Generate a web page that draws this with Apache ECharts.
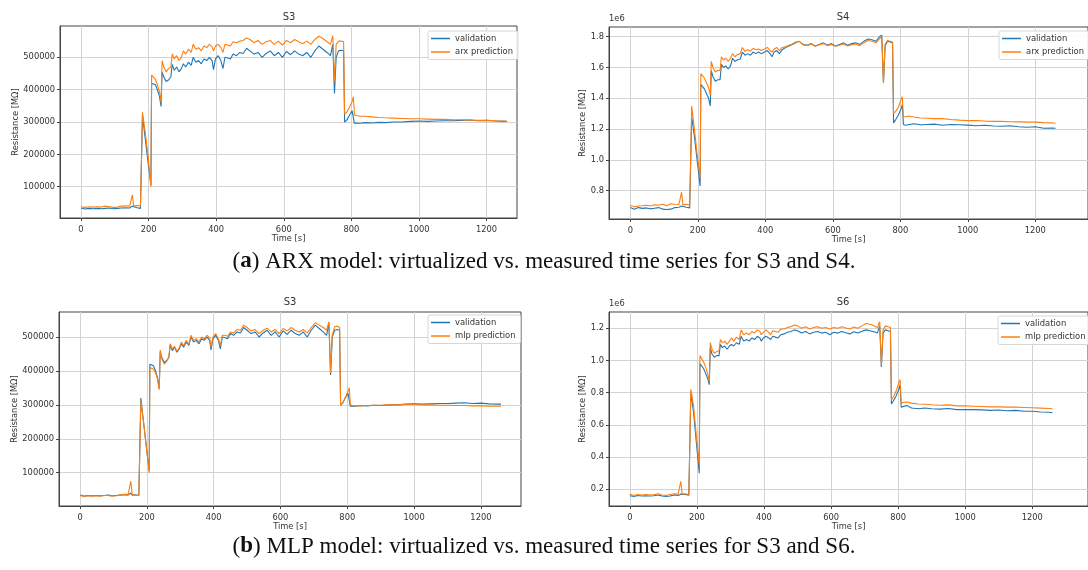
<!DOCTYPE html>
<html>
<head>
<meta charset="utf-8">
<script src="https://cdn.jsdelivr.net/npm/echarts@6/dist/echarts.min.js"></script>
<style>
  html, body { margin: 0; padding: 0; background: #fff; }
  #main { width: 1088px; height: 570px; }
</style>
</head>
<body>
<div id="main"></div>
<script>
// time axis shared by every panel [s]
var time = [
  0, 12, 24, 36, 48, 60, 72, 84, 96, 108,
  120, 132, 144, 149, 152, 156, 166, 176, 179, 182,
  190, 198, 207, 209, 214, 220, 226, 232, 237, 240,
  245, 252, 259, 266, 270, 276, 283, 290, 297, 303,
  310, 318, 326, 332, 340, 348, 356, 364, 372, 380,
  388, 392, 398, 406, 414, 420, 426, 434, 442, 450,
  460, 470, 480, 490, 500, 512, 524, 536, 548, 560,
  572, 584, 596, 608, 620, 632, 644, 656, 668, 680,
  692, 704, 716, 728, 738, 745, 750, 755, 762, 770,
  777, 780, 786, 794, 802, 806, 809, 816, 826, 840,
  860, 880, 900, 925, 950, 975, 1000, 1025, 1050, 1075,
  1100, 1125, 1150, 1175, 1200, 1225, 1250, 1260
];

// S3 measured (validation)
var s3Validation = [
  34000, 31000, 33000, 32000, 33000, 32000, 33000, 34000, 32000, 33000,
  34000, 35000, 34000, 36000, 40000, 34000, 35000, 33000, 34000, 320000,
  250000, 180000, 105000, 420000, 425000, 415000, 400000, 380000, 348000, 455000,
  440000, 425000, 430000, 440000, 478000, 460000, 470000, 455000, 465000, 480000,
  470000, 485000, 475000, 500000, 485000, 490000, 480000, 495000, 490000, 500000,
  490000, 462000, 495000, 505000, 490000, 465000, 500000, 498000, 495000, 510000,
  505000, 515000, 512000, 528000, 520000, 510000, 515000, 500000, 512000, 520000,
  505000, 515000, 500000, 518000, 508000, 520000, 510000, 505000, 515000, 500000,
  520000, 535000, 525000, 515000, 505000, 540000, 388000, 500000, 520000, 522000,
  520000, 300000, 305000, 320000, 335000, 340000, 296000, 297000, 296000, 298000,
  297000, 299000, 298000, 300000, 300000, 302000, 303000, 302000, 303000, 304000,
  304000, 305000, 306000, 304000, 305000, 303000, 302000, 302000
];
// S3 ARX prediction
var s3Arx = [
  38000, 36000, 38000, 37000, 38000, 37000, 40000, 38000, 36000, 37000,
  40000, 41000, 40000, 42000, 75000, 40000, 42000, 41000, 42000, 330000,
  270000, 200000, 100000, 445000, 440000, 432000, 415000, 395000, 360000, 490000,
  470000, 455000, 465000, 470000, 510000, 495000, 505000, 490000, 500000, 520000,
  510000, 525000, 515000, 540000, 525000, 530000, 520000, 535000, 530000, 540000,
  532000, 520000, 535000, 540000, 530000, 515000, 540000, 538000, 535000, 548000,
  545000, 550000, 552000, 560000, 555000, 545000, 552000, 540000, 548000, 552000,
  540000, 550000, 538000, 552000, 545000, 555000, 548000, 542000, 550000, 540000,
  555000, 565000, 558000, 548000, 540000, 567000, 425000, 540000, 550000, 550000,
  548000, 325000, 330000, 345000, 362000, 378000, 322000, 320000, 318000, 318000,
  316000, 314000, 313000, 312000, 311000, 310000, 310000, 309000, 308000, 308000,
  307000, 307000, 306000, 305000, 305000, 304000, 303000, 302000
];
// S3 MLP prediction
var s3Mlp = [
  33000, 30000, 32000, 31000, 32000, 31000, 33000, 33000, 31000, 32000,
  34000, 36000, 36000, 38000, 75000, 35000, 34000, 33000, 33000, 310000,
  250000, 180000, 100000, 410000, 415000, 405000, 395000, 375000, 345000, 462000,
  435000, 420000, 428000, 442000, 480000, 465000, 472000, 458000, 468000, 485000,
  475000, 490000, 478000, 505000, 490000, 495000, 485000, 500000, 495000, 505000,
  498000, 470000, 500000, 510000, 495000, 475000, 505000, 505000, 502000, 515000,
  512000, 522000, 520000, 535000, 528000, 518000, 522000, 510000, 520000, 526000,
  515000, 522000, 510000, 525000, 518000, 528000, 520000, 515000, 522000, 512000,
  528000, 542000, 535000, 528000, 520000, 545000, 395000, 505000, 530000, 532000,
  528000, 298000, 305000, 322000, 340000, 350000, 300000, 298000, 297000, 297000,
  298000, 299000, 299000, 300000, 300000, 301000, 301000, 300000, 300000, 299000,
  299000, 298000, 298000, 297000, 297000, 296000, 296000, 296000
];
// S4 measured (validation)
var s4Validation = [
  690000, 680000, 690000, 685000, 688000, 682000, 686000, 690000, 680000, 678000,
  680000, 690000, 692000, 688000, 700000, 690000, 692000, 688000, 690000, 1280000,
  1150000, 1000000, 830000, 1490000, 1480000, 1460000, 1430000, 1400000, 1350000, 1580000,
  1540000, 1510000, 1520000, 1520000, 1620000, 1600000, 1610000, 1590000, 1610000, 1660000,
  1640000, 1650000, 1655000, 1700000, 1680000, 1690000, 1680000, 1700000, 1690000, 1700000,
  1690000, 1680000, 1700000, 1710000, 1690000, 1670000, 1700000, 1710000, 1690000, 1715000,
  1730000, 1740000, 1750000, 1760000, 1770000, 1750000, 1745000, 1755000, 1740000, 1750000,
  1760000, 1745000, 1755000, 1740000, 1750000, 1760000, 1745000, 1755000, 1760000, 1750000,
  1770000, 1785000, 1780000, 1770000, 1800000, 1810000, 1500000, 1740000, 1770000, 1765000,
  1760000, 1240000, 1260000, 1290000, 1330000, 1360000, 1230000, 1225000, 1230000, 1235000,
  1228000, 1230000, 1232000, 1225000, 1230000, 1228000, 1226000, 1222000, 1225000, 1220000,
  1218000, 1222000, 1215000, 1212000, 1215000, 1205000, 1207000, 1205000
];
// S4 ARX prediction
var s4Arx = [
  705000, 695000, 700000, 702000, 705000, 700000, 708000, 705000, 712000, 702000,
  715000, 712000, 710000, 720000, 790000, 708000, 712000, 706000, 708000, 1350000,
  1200000, 1040000, 880000, 1560000, 1550000, 1530000, 1500000, 1470000, 1420000, 1640000,
  1600000, 1570000, 1580000, 1580000, 1670000, 1650000, 1660000, 1640000, 1660000, 1690000,
  1670000, 1685000, 1690000, 1730000, 1705000, 1715000, 1705000, 1725000, 1715000, 1720000,
  1710000, 1705000, 1720000, 1730000, 1710000, 1700000, 1720000, 1730000, 1710000, 1730000,
  1735000, 1745000, 1752000, 1765000, 1770000, 1748000, 1742000, 1752000, 1738000, 1748000,
  1755000, 1742000, 1750000, 1738000, 1745000, 1752000, 1740000, 1748000, 1752000, 1742000,
  1760000, 1775000, 1770000, 1760000, 1785000, 1800000, 1500000, 1750000, 1775000, 1770000,
  1765000, 1300000, 1315000, 1340000, 1390000, 1410000, 1280000, 1280000, 1285000, 1278000,
  1272000, 1270000, 1268000, 1268000, 1262000, 1258000, 1255000, 1255000, 1252000, 1250000,
  1250000, 1248000, 1247000, 1245000, 1245000, 1242000, 1240000, 1238000
];
// S6 measured (validation)
var s6Validation = [
  160000, 155000, 162000, 158000, 160000, 158000, 160000, 165000, 158000, 155000,
  158000, 165000, 162000, 160000, 170000, 165000, 168000, 163000, 165000, 800000,
  680000, 500000, 300000, 980000, 970000, 950000, 920000, 890000, 850000, 1080000,
  1040000, 1020000, 1030000, 1030000, 1100000, 1080000, 1090000, 1070000, 1090000, 1100000,
  1090000, 1110000, 1100000, 1150000, 1120000, 1130000, 1120000, 1140000, 1130000, 1150000,
  1140000, 1120000, 1140000, 1150000, 1140000, 1130000, 1150000, 1145000, 1140000, 1160000,
  1165000, 1175000, 1180000, 1190000, 1185000, 1170000, 1180000, 1165000, 1175000, 1180000,
  1170000, 1175000, 1160000, 1175000, 1170000, 1180000, 1172000, 1165000, 1178000, 1170000,
  1182000, 1190000, 1185000, 1178000, 1170000, 1215000, 960000, 1170000, 1190000, 1185000,
  1180000, 730000, 750000, 780000, 820000, 850000, 710000, 715000, 720000, 705000,
  700000, 705000, 700000, 698000, 702000, 695000, 695000, 695000, 693000, 690000,
  692000, 688000, 690000, 685000, 685000, 680000, 678000, 675000
];
// S6 MLP prediction
var s6Mlp = [
  170000, 162000, 168000, 165000, 168000, 165000, 168000, 172000, 165000, 162000,
  168000, 172000, 170000, 168000, 250000, 170000, 172000, 168000, 170000, 820000,
  720000, 540000, 350000, 1030000, 1020000, 990000, 960000, 920000, 870000, 1110000,
  1070000, 1045000, 1055000, 1060000, 1130000, 1110000, 1120000, 1100000, 1120000, 1140000,
  1120000, 1145000, 1130000, 1190000, 1160000, 1170000, 1160000, 1180000, 1170000, 1190000,
  1180000, 1160000, 1175000, 1190000, 1175000, 1160000, 1185000, 1180000, 1175000, 1195000,
  1195000, 1205000, 1210000, 1220000, 1215000, 1200000, 1210000, 1195000, 1205000, 1210000,
  1200000, 1205000, 1195000, 1205000, 1200000, 1210000, 1202000, 1195000, 1208000, 1200000,
  1215000, 1230000, 1225000, 1215000, 1205000, 1240000, 970000, 1190000, 1215000, 1210000,
  1205000, 755000, 775000, 810000, 860000, 880000, 735000, 740000, 742000, 735000,
  730000, 728000, 725000, 722000, 724000, 718000, 718000, 716000, 714000, 712000,
  712000, 710000, 710000, 708000, 706000, 704000, 702000, 700000
];

var xTicks = [0, 200, 400, 600, 800, 1000, 1200];
var yTicksS3 = [100000, 200000, 300000, 400000, 500000];
var yTicksS4 = [800000, 1000000, 1200000, 1400000, 1600000, 1800000];
var yTicksS6 = [200000, 400000, 600000, 800000, 1000000, 1200000];

[s3Validation, s3Arx, s3Mlp, s4Validation, s4Arx, s6Validation, s6Mlp].forEach(function (a) {
  if (a.length !== time.length) throw new Error('length mismatch ' + a.length + ' vs ' + time.length);
});

function pairs(vals) {
  return time.map(function (t, i) { return [t, vals[i]]; });
}

var BLUE = '#1f77b4', ORANGE = '#ff7f0e';
var TXT = '#333';
var FONT = 'DejaVu Sans';

var chart = echarts.init(document.getElementById('main'), null, { renderer: 'canvas' });

var grids = [
  { left: 60, top: 26, width: 457, height: 192 },
  { left: 609, top: 27, width: 483, height: 192 },
  { left: 59, top: 312, width: 462, height: 194 },
  { left: 609, top: 312, width: 483, height: 194 }
];
var xRanges = [[-62, 1290], [-63, 1356], [-63, 1320], [-62, 1366]];
var yRanges = [[3250, 596800], [616000, 1863000], [1840, 573700], [96300, 1301000]];
var yTicks = [yTicksS3, yTicksS4, yTicksS3, yTicksS6];
var yNameGap = [40, 22, 40, 22];

function xAxis(i) {
  return {
    type: 'value', gridIndex: i, min: xRanges[i][0], max: xRanges[i][1],
    name: 'Time [s]', nameLocation: 'middle', nameGap: 17,
    nameTextStyle: { fontFamily: FONT, fontSize: 8.3, color: TXT },
    axisLine: { show: true, onZero: false, lineStyle: { color: '#444', width: 1 } },
    axisTick: { show: true, length: 3, customValues: xTicks, lineStyle: { color: '#444' } },
    axisLabel: { customValues: xTicks, margin: 8, fontFamily: FONT, fontSize: 8.3, color: TXT,
      formatter: function (v) { return String(v); } },
    splitLine: { show: true, lineStyle: { color: '#d3d3d3', width: 1 } }
  };
}
function yAxis(i) {
  var mega = (i === 1 || i === 3);
  return {
    type: 'value', gridIndex: i, min: yRanges[i][0], max: yRanges[i][1],
    name: 'Resistance [M\u03a9]', nameLocation: 'middle', nameGap: yNameGap[i],
    nameTextStyle: { fontFamily: FONT, fontSize: 8.3, color: TXT },
    axisLine: { show: true, onZero: false, lineStyle: { color: '#444', width: 1 } },
    axisTick: { show: true, length: 3, customValues: yTicks[i], lineStyle: { color: '#444' } },
    axisLabel: {
      customValues: yTicks[i], margin: 5, fontFamily: FONT, fontSize: 8.3, color: TXT,
      formatter: function (v) { return mega ? (v / 1e6).toFixed(1) : String(v); }
    },
    splitLine: { show: true, lineStyle: { color: '#d3d3d3', width: 1 } }
  };
}

function line(name, vals, i, color) {
  return {
    name: name, type: 'line', xAxisIndex: i, yAxisIndex: i,
    data: pairs(vals), showSymbol: false, symbol: 'none',
    lineStyle: { color: color, width: 1.1 }, itemStyle: { color: color },
    emphasis: { disabled: true }, animation: false
  };
}

function legend(names, left, top) {
  return {
    data: names, orient: 'vertical', left: left, top: top,
    icon: 'rect', itemWidth: 19, itemHeight: 1.5, itemGap: 2.5,
    padding: [2, 5, 2, 3],
    backgroundColor: 'rgba(255,255,255,0.85)', borderColor: '#d6d6d6', borderWidth: 1, borderRadius: 2,
    textStyle: { fontFamily: FONT, fontSize: 8.4, color: TXT, lineHeight: 11 },
    selectedMode: false
  };
}

function panelTitle(text, x, y) {
  return { text: text, left: x, top: y, textAlign: 'center', padding: 0,
    textStyle: { fontFamily: FONT, fontSize: 10, fontWeight: 'normal', color: TXT } };
}

var captionRich = {
  p: { fontFamily: 'Liberation Serif', fontSize: 23, fontWeight: 'normal', color: '#111' },
  b: { fontFamily: 'Liberation Serif', fontSize: 23, fontWeight: 'bold', color: '#111' }
};

var option = {
  backgroundColor: '#ffffff',
  animation: false,
  title: [
    panelTitle('S3', 289, 12),
    panelTitle('S4', 843, 12),
    panelTitle('S3', 290, 297),
    panelTitle('S6', 843, 297),
    { text: '1e6', left: 609, top: 15, padding: 0,
      textStyle: { fontFamily: FONT, fontSize: 8.3, fontWeight: 'normal', color: TXT } },
    { text: '1e6', left: 609, top: 300, padding: 0,
      textStyle: { fontFamily: FONT, fontSize: 8.3, fontWeight: 'normal', color: TXT } },
    { text: '{p|(}{b|a}{p|) ARX model: virtualized vs. measured time series for S3 and S4.}',
      left: 544, top: 250, textAlign: 'center', padding: 0,
      textStyle: { fontWeight: 'normal', rich: captionRich } },
    { text: '{p|(}{b|b}{p|) MLP model: virtualized vs. measured time series for S3 and S6.}',
      left: 544, top: 535, textAlign: 'center', padding: 0,
      textStyle: { fontWeight: 'normal', rich: captionRich } }
  ],
  legend: [
    legend(['validation', 'arx prediction'], 428, 31),
    legend(['validation', 'arx prediction'], 999, 31),
    legend(['validation', 'mlp prediction'], 428, 315),
    legend(['validation', 'mlp prediction'], 998, 316)
  ],
  grid: grids.map(function (g) {
    return { left: g.left, top: g.top, width: g.width, height: g.height,
      show: true, borderColor: '#444', borderWidth: 1, backgroundColor: 'transparent' };
  }),
  xAxis: [xAxis(0), xAxis(1), xAxis(2), xAxis(3)],
  yAxis: [yAxis(0), yAxis(1), yAxis(2), yAxis(3)],
  series: [
    line('validation', s3Validation, 0, BLUE),
    line('arx prediction', s3Arx, 0, ORANGE),
    line('validation', s4Validation, 1, BLUE),
    line('arx prediction', s4Arx, 1, ORANGE),
    line('validation', s3Validation, 2, BLUE),
    line('mlp prediction', s3Mlp, 2, ORANGE),
    line('validation', s6Validation, 3, BLUE),
    line('mlp prediction', s6Mlp, 3, ORANGE)
  ]
};

chart.setOption(option);
</script>
</body>
</html>
